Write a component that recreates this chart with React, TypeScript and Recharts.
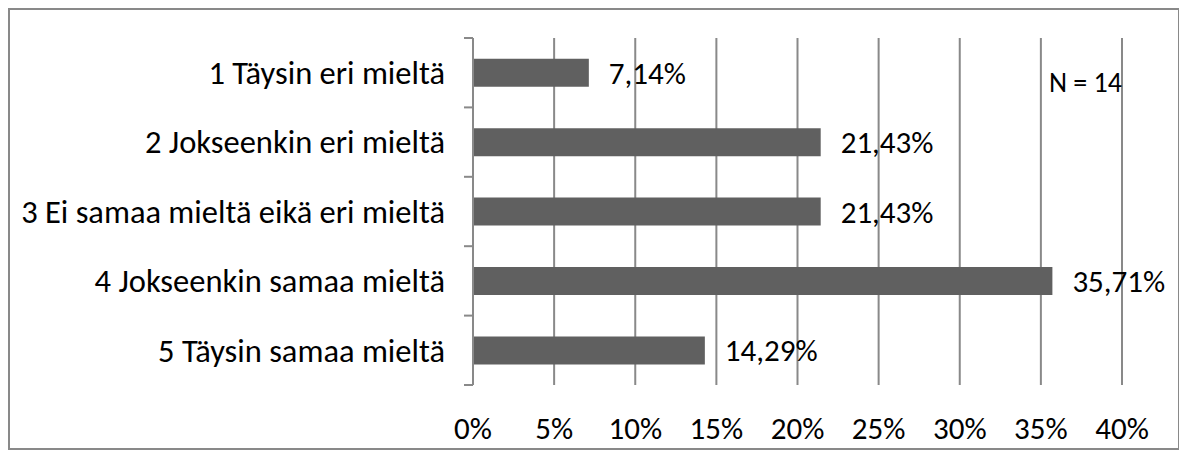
import { Bar, BarChart, CartesianGrid, LabelList, XAxis, YAxis } from "recharts";

const categories = [
  "1 Täysin eri mieltä",
  "2 Jokseenkin eri mieltä",
  "3 Ei samaa mieltä eikä eri mieltä",
  "4 Jokseenkin samaa mieltä",
  "5 Täysin samaa mieltä",
];
const shares = [7.14, 21.43, 21.43, 35.71, 14.29];
const valueTicks = [0, 5, 10, 15, 20, 25, 30, 35, 40];
const note = "N = 14";

const data = categories.map((label, i) => ({ label, share: shares[i] }));

const FONT = "Carlito, Calibri, Lato, sans-serif";
const FS = 31;
const GRAY = "#898989";
const TICK = 9;
const GAP = 19;

const fmt = (v: number) => `${v.toFixed(2).replace(".", ",")}%`;

function CategoryTick(props: any) {
  const { x, y, payload, index } = props;
  const half = payload?.offset ?? 0;
  const x1 = x + GAP;
  const x2 = x + GAP + TICK;
  return (
    <g>
      <line x1={x1} x2={x2} y1={y - half} y2={y - half} stroke={GRAY} strokeWidth={2} />
      {index === categories.length - 1 && (
        <line x1={x1} x2={x2} y1={y + half} y2={y + half} stroke={GRAY} strokeWidth={2} />
      )}
      <text x={x} y={y} dy="0.35em" textAnchor="end" fill="#000" fontSize={32.5} fontFamily={FONT}>
        {payload.value}
      </text>
    </g>
  );
}

export default function App() {
  return (
    <div
      style={{
        position: "relative",
        width: 1168,
        height: 438,
        border: `2px solid ${GRAY}`,
        background: "#fff",
      }}
    >
      <BarChart
        width={1168}
        height={438}
        data={data}
        layout="vertical"
        margin={{ top: 28, right: 56, bottom: 0, left: 0 }}
        barCategoryGap="30%"
      >
        <CartesianGrid vertical horizontal={false} stroke={GRAY} strokeWidth={2} xAxisId="bottom" />
        <XAxis
          xAxisId="bottom"
          type="number"
          orientation="bottom"
          domain={[0, 40]}
          ticks={valueTicks}
          tickFormatter={(v) => `${v}%`}
          height={63}
          axisLine={false}
          tickLine={false}
          tickSize={0}
          tickMargin={32}
          tick={{ fill: "#000", fontSize: FS, fontFamily: FONT }}
        />
        <XAxis
          xAxisId="top"
          type="number"
          orientation="top"
          domain={[0, 40]}
          ticks={valueTicks}
          height={0}
          axisLine={{ stroke: GRAY, strokeWidth: 2 }}
          tickLine={{ stroke: GRAY, strokeWidth: 2 }}
          tickSize={TICK}
          tick={false}
        />
        <YAxis
          type="category"
          dataKey="label"
          width={463}
          axisLine={{ stroke: GRAY, strokeWidth: 2 }}
          tickLine={false}
          tickSize={TICK}
          tickMargin={GAP}
          interval={0}
          tick={<CategoryTick />}
        />
        <Bar dataKey="share" xAxisId="bottom" fill="#606060" isAnimationActive={false}>
          <LabelList
            dataKey="share"
            position="right"
            offset={20}
            formatter={(v: any) => fmt(Number(v))}
            fill="#000"
            fontSize={FS}
            fontFamily={FONT}
          />
        </Bar>
      </BarChart>
      <div
        style={{
          position: "absolute",
          right: 56,
          top: 59,
          fontSize: 28,
          lineHeight: "28px",
          fontFamily: FONT,
          color: "#000",
          textAlign: "right",
        }}
      >
        {note}
      </div>
    </div>
  );
}
